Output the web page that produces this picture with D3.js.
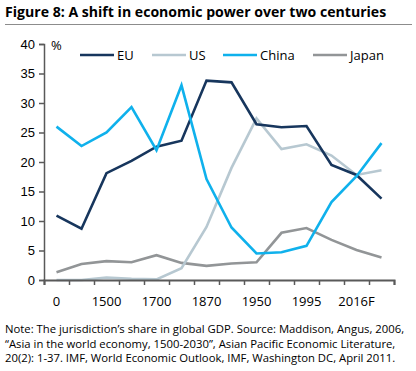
<!DOCTYPE html>
<html>
<head>
<meta charset="utf-8">
<script src="https://cdn.jsdelivr.net/npm/d3@7"></script>
<style>
  body { margin: 0; background: #fff; }
  svg { font-family: "Open Sans", "Noto Sans", sans-serif; }
</style>
</head>
<body>
<svg id="chart" width="416" height="371"></svg>
<script>
// periods (only every other one is labelled on the axis)
var periods = ["0", "1000", "1500", "1600", "1700", "1820", "1870", "1913", "1950", "1973", "1995", "2005", "2016F", "2030"]
var tickLabels = ["0", "1500", "1700", "1870", "1950", "1995", "2016F"]

// share of global GDP, %
var eu    = [10.9, 8.7, 18.1, 20.2, 22.6, 23.6, 33.8, 33.5, 26.4, 25.9, 26.1, 19.5, 17.8, 13.8]
var us    = [0, 0, 0.4, 0.2, 0.1, 2.0, 9.0, 19.0, 27.4, 22.2, 23.0, 21.1, 17.8, 18.6]
var china = [26.0, 22.7, 25.0, 29.3, 22.0, 33.0, 17.1, 8.9, 4.5, 4.7, 5.8, 13.2, 17.6, 23.2]
var japan = [1.3, 2.7, 3.2, 3.0, 4.2, 2.9, 2.4, 2.8, 3.0, 8.0, 8.8, 6.8, 5.1, 3.8]

var names  = ["EU", "US", "China", "Japan"]
var colors = ["#17365d", "#b7c8d1", "#0fb1ec", "#929597"]

var svg = d3.select("#chart")

// title + rule
svg.append("text").attr("x", 5).attr("y", 17).text("Figure 8: A shift in economic power over two centuries")
  .style("font-size", "14.1px").style("font-weight", "bold").attr("fill", "#000")
svg.append("line").attr("x1", 5).attr("x2", 412).attr("y1", 24.5).attr("y2", 24.5)
  .attr("stroke", "#8c8c8c").attr("stroke-width", 1)

var x = d3.scaleBand().domain(periods).range([44, 394])
var y = d3.scaleLinear().domain([0, 40]).range([280, 44])

var axisColor = "#595959"

// y axis
var yAxis = svg.append("g").attr("transform", "translate(44,0)")
  .call(d3.axisLeft(y).tickValues(d3.range(0, 41, 5)).tickSize(5).tickPadding(4))
yAxis.select(".domain").attr("stroke", axisColor).attr("stroke-width", 1.5)
yAxis.selectAll(".tick line").attr("stroke", axisColor).attr("stroke-width", 1.5)
yAxis.selectAll("text").style("font-size", "13px").attr("fill", "#000").style("font-family", "inherit")

svg.append("text").attr("x", 51).attr("y", 50).text("%").style("font-size", "13px")

// lines
var line = d3.line().x(function(d, i) { return x(periods[i]) + x.bandwidth() / 2 }).y(function(d) { return y(d) })
var series = [eu, us, china, japan]
// draw order: japan, us, eu, china roughly as in original
;[3, 1, 0, 2].forEach(function(k) {
  svg.append("path").datum(series[k]).attr("d", line)
    .attr("fill", "none").attr("stroke", colors[k]).attr("stroke-width", 2.6)
    .attr("stroke-linejoin", "miter")
})

// x axis (drawn after lines so it sits on top)
var xTicks = d3.scalePoint().domain(d3.range(15)).range([44, 394])
var xAxis = svg.append("g").attr("transform", "translate(0,280)")
  .call(d3.axisBottom(xTicks).tickSize(5).tickFormat(""))
xAxis.select(".domain").attr("stroke", axisColor).attr("stroke-width", 2)
xAxis.selectAll(".tick line").attr("stroke", axisColor).attr("stroke-width", 1.5)

svg.append("g").selectAll("text").data(tickLabels).enter().append("text")
  .attr("x", function(d, i) { return x(periods[i * 2]) + x.bandwidth() / 2 })
  .attr("y", 306).attr("text-anchor", "middle").style("font-size", "13px").text(function(d) { return d })

// legend
var legX = [80, 152, 223, 313]
names.forEach(function(n, i) {
  svg.append("line").attr("x1", legX[i]).attr("x2", legX[i] + 34).attr("y1", 55).attr("y2", 55)
    .attr("stroke", colors[i]).attr("stroke-width", 2.6)
  svg.append("text").attr("x", legX[i] + 37).attr("y", 55).attr("dy", "0.35em")
    .style("font-size", "13px").text(n)
})

// note
var note = [
  "Note: The jurisdiction\u2019s share in global GDP. Source: Maddison, Angus, 2006,",
  "\u201cAsia in the world economy, 1500-2030\u201d, Asian Pacific Economic Literature,",
  "20(2): 1-37. IMF, World Economic Outlook, IMF, Washington DC, April 2011."
]
svg.append("g").selectAll("text").data(note).enter().append("text")
  .attr("x", 5).attr("y", function(d, i) { return 333 + i * 14.5 })
  .style("font-size", "11.3px").text(function(d) { return d })
</script>
</body>
</html>
